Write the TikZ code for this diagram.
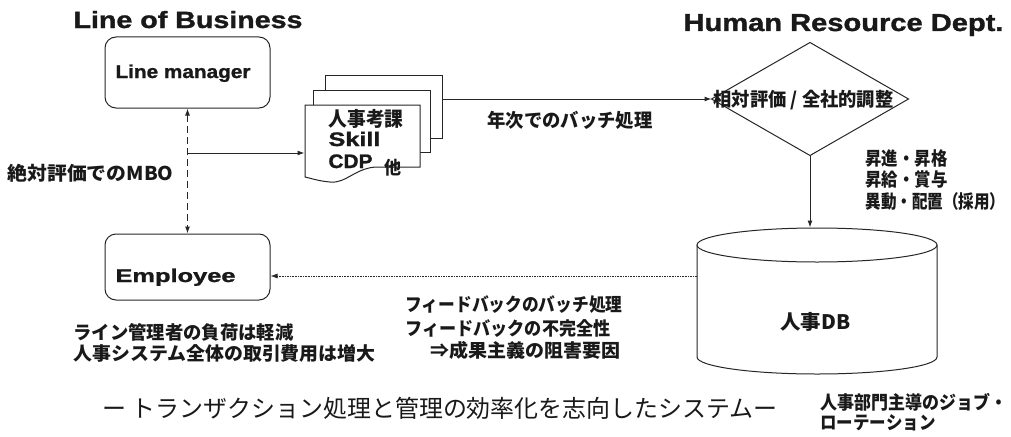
\documentclass[tikz,border=0pt]{standalone}
\usepackage{fontspec}
\usepackage{graphicx}
\usetikzlibrary{arrows.meta}
\newfontfamily\en{Liberation Sans}[BoldFeatures={FakeBold=1.2}]
\newfontfamily\jp{Noto Sans CJK JP}
\newcommand{\fw}[2]{\resizebox{#1pt}{\height}{#2}}
\newcommand{\fsz}[1]{\fontsize{#1}{#1}\selectfont}
\begin{document}
\begin{tikzpicture}[x=1pt,y=-1pt,
  line width=1pt, draw=black!85,
  tip/.tip={Latex[length=7pt,width=5pt]},
  arr/.style={-tip},
  box/.style={draw, rounded corners=11pt, inner sep=0, minimum width=165pt},
  shade0/.style={inner sep=0},
  jl/.style={inner sep=0, anchor=west, text=black!90},
  el/.style={inner sep=0, anchor=base west, text=black!90},
]
\useasboundingbox (0,0) rectangle (1011,436);

% titles
\node[el, font=\en\bfseries\fsz{23.5}] (t1) at (73,28) {\fw{229}{Line of Business}};
\node[el, font=\en\bfseries\fsz{24.5}] (t2) at (683,31) {\fw{320}{Human Resource Dept.}};

% line manager / employee
\node[box, minimum height=71pt] (lm) at (187.5,72.5) {};
\node[el, font=\en\bfseries\fsz{18.5}] (lmt) at (115,78) {\fw{135}{Line manager}};
\node[box, minimum height=66pt] (emp) at (187.5,267) {};
\node[el, font=\en\bfseries\fsz{18.5}] (empt) at (115,282) {\fw{120}{Employee}};

\draw[tip-tip, dash pattern=on 7pt off 4pt] (lm.south) -- (emp.north);
\node[jl, font=\jp\bfseries\fsz{19}] (mbo) at (7,173) {\fw{166}{絶対評価でのMBO}};

% document stack
\node[shade0, draw, fill=white, minimum width=117pt, minimum height=63pt] (back) at (383.5,106.5) {};
\node[shade0, draw, fill=white, minimum width=117pt, minimum height=62pt] (mid) at (371.5,121) {};
\draw[fill=white] (305,105) -- (420,105) -- (420,167) -- (378,167)
  .. controls (356,167) and (346,184) .. (330,182)
  .. controls (318,181) and (310,178) .. (305,177) -- cycle;
\node[shade0, minimum width=115pt, minimum height=62pt] (front) at (362.5,136) {};
\node[jl, font=\jp\bfseries\fsz{20}] (jk) at (328,119) {\fw{75}{人事考課}};
\node[el, font=\en\bfseries\fsz{19.5}] (sk) at (328,146) {\fw{52}{Skill}};
\node[el, font=\en\bfseries\fsz{19.5}] (cdp) at (328,168) {\fw{44}{CDP}};
\node[jl, font=\jp\bfseries\fsz{18}] (hoka) at (384,168) {\fw{17}{他}};

\coordinate (j) at (187.5,153);
\draw[arr] (j) -- (j -| front.west);

% diamond
\node[shade0, minimum width=196pt, minimum height=112pt] (dia) at (810,99) {};
\draw (dia.north) -- (dia.east) -- (dia.south) -- (dia.west) -- cycle;
\draw[arr] (back.east |- dia.west) -- (dia.west);
\node[jl, font=\jp\bfseries\fsz{19}] (dt) at (713,100) {\fw{180}{相対評価 / 全社的調整}};
\node[jl, font=\jp\bfseries\fsz{19}] (ya) at (487,120) {\fw{165}{年次でのバッチ処理}};

% database cylinder
\node[shade0, minimum width=240pt, minimum height=146pt] (db) at (817,301) {};
\draw[fill=white] (697,245) -- (697,357) arc[start angle=180, end angle=360, x radius=120pt, y radius=17pt] -- (937,245);
\draw[fill=white] (817,245) ellipse [x radius=120pt, y radius=17pt];
\node[jl, font=\jp\bfseries\fsz{20}] (dbt) at (780,322) {\fw{70}{人事DB}};
\draw[arr] (dia.south) -- (dia.south |- db.north);

\node[jl, font=\jp\bfseries\fsz{18.5}] (r1) at (865,158) {\fw{82}{昇進・昇格}};
\node[jl, font=\jp\bfseries\fsz{18.5}] (r2) at (865,180) {\fw{82}{昇給・賞与}};
\node[jl, font=\jp\bfseries\fsz{18.5}] (r3) at (865,201) {\fw{140}{異動・配置（採用）}};

% feedback
\coordinate (fb) at (697,276);
\draw[arr, dash pattern=on 1.6pt off 1pt, line width=0.8pt] (fb) -- (fb -| emp.east);
\node[jl, font=\jp\bfseries\fsz{18.5}] (f1) at (405,305) {\fw{217}{フィードバックのバッチ処理}};
\node[jl, font=\jp\bfseries\fsz{18.5}] (f2) at (405,329) {\fw{205}{フィードバックの不完全性}};
\node[jl, font=\jp\bfseries\fsz{18.5}] (f3) at (430,350) {\fw{190}{⇒成果主義の阻害要因}};

\node[jl, font=\jp\bfseries\fsz{18.5}] (l1) at (73,332) {\fw{220}{ライン管理者の負荷は軽減}};
\node[jl, font=\jp\bfseries\fsz{18.5}] (l2) at (73,353) {\fw{302}{人事システム全体の取引費用は増大}};

\node[jl, font=\jp\fsz{24}] (bt) at (102,408) {\fw{675}{ー トランザクション処理と管理の効率化を志向したシステムー}};

\node[jl, font=\jp\bfseries\fsz{18.5}] (jr1) at (820,402) {\fw{187}{人事部門主導のジョブ・}};
\node[jl, font=\jp\bfseries\fsz{18.5}] (jr2) at (820,423) {\fw{115}{ローテーション}};
\end{tikzpicture}
\end{document}
